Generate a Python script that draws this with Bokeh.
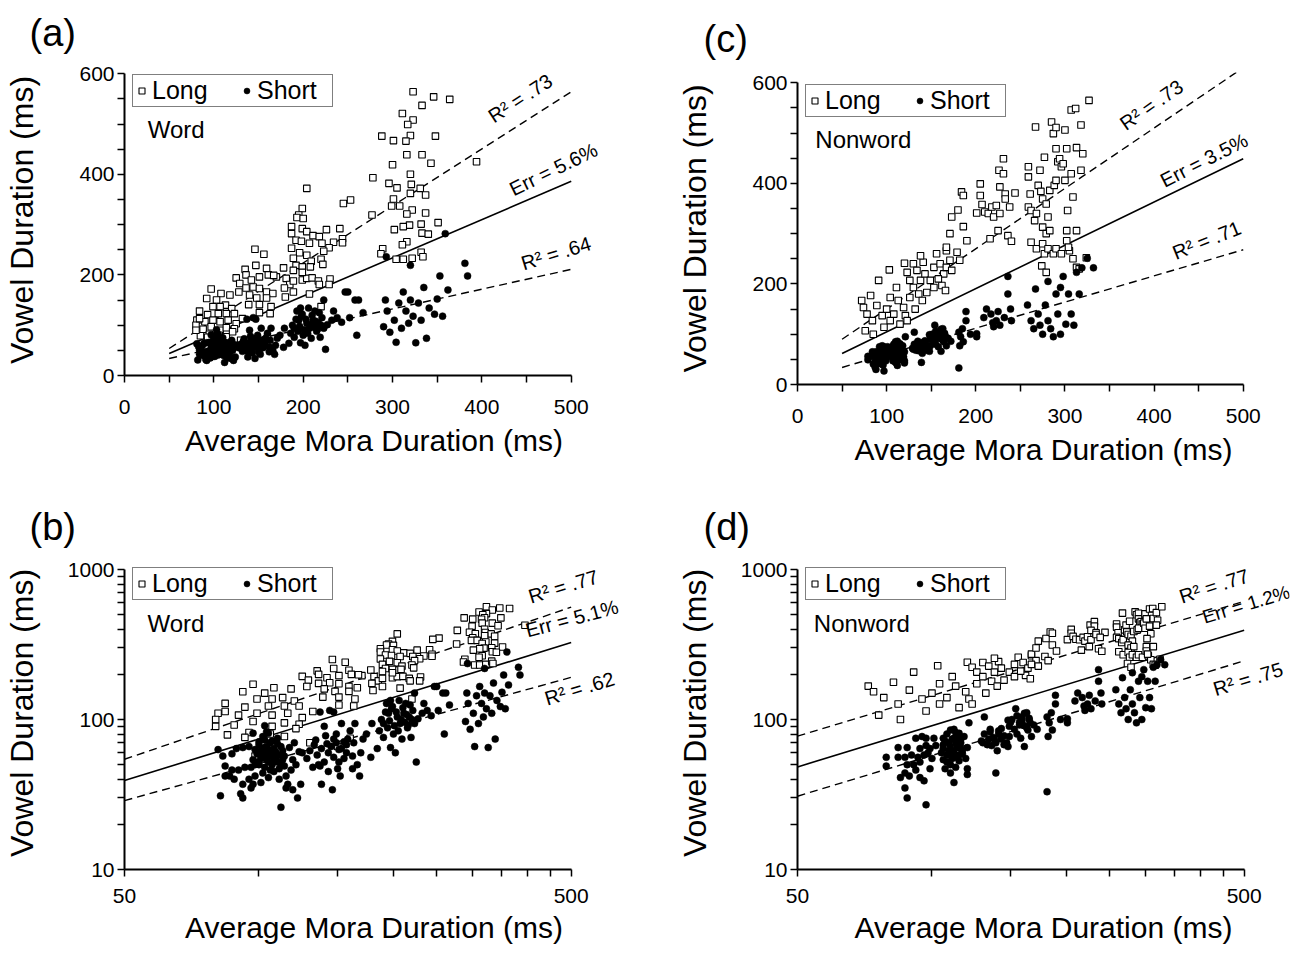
import math
from bokeh.plotting import figure
from bokeh.models import Range1d, FixedTicker, Label, Legend, LegendItem, BasicTickFormatter
from bokeh.layouts import row, column
from bokeh.embed import file_html
from bokeh.resources import INLINE

# ---------------- data (ms) ----------------
word_long = [
    (323,564),(346,554),(364,549),(333,537),(311,521),(323,508),(317,499),(288,476),(301,467),(320,477),
    (315,466),(348,476),(316,439),(333,439),(300,419),(343,422),(394,425),(278,393),(320,400),(296,382),
    (305,373),(321,380),(331,372),(337,359),(320,362),(301,351),(299,337),(308,337),(322,329),(316,321),
    (337,323),(277,319),(351,304),(332,301),(319,299),(312,296),(302,290),(333,283),(340,281),(316,266),
    (311,260),(289,252),(287,242),(304,231),(312,231),(322,233),(332,245),(334,236),(253,349),(245,342),
    (204,372),
    (199,332),(195,319),(193,314),(200,312),(187,296),(199,292),(204,286),(211,278),(218,276),(226,290),
    (241,292),(244,272),(244,264),(234,265),(187,282),(192,269),(198,267),(207,263),(221,263),(229,254),
    (223,247),(187,253),(196,244),(204,239),(209,227),(220,231),(189,233),(192,219),(199,216),(208,216),
    (222,221),(178,214),(189,209),(181,193),(185,181),(189,188),(199,190),(204,193),(210,194),(217,188),
    (230,192),(199,205),(179,174),(189,166),(207,162),(218,181),(229,181),(220,137),(170,196),(180,156),
    (146,251),(156,241),(135,211),(147,219),(159,213),(125,194),(136,200),(142,190),(151,196),(161,200),
    (167,199),(129,183),(136,174),(144,176),(151,173),(159,166),(166,163),(128,166),(140,160),(148,154),
    (159,154),(139,141),(151,141),(164,137),(163,123),(97,172),(92,153),(108,163),(118,160),(103,150),
    (113,140),(120,133),(107,137),(99,137),(84,128),(93,121),(105,123),(114,123),(123,123),(132,113),
    (81,110),(90,107),(99,110),(107,107),(116,110),(125,103),(80,100),(88,92),(97,97),(107,90),
    (114,95),(123,93),(85,79),(95,82),(106,80),(114,77),(84,113),(121,87),(80,90),(151,125),
    (98,57),(93,76),(130,70),(150,66),(160,75),
]
word_short = [
    (81,63),(82,31),(83,57),(84,49),(84,42),(86,42),(87,59),(87,46),(88,40),(89,64),(90,46),(91,32),
    (93,48),(92,37),(92,30),(95,66),(95,40),(96,35),(97,81),(97,54),(98,42),(99,59),(100,71),(101,62),
    (101,38),(102,77),(103,56),(104,83),(104,54),(105,63),(105,41),(106,46),(107,58),(107,72),(109,56),
    (110,69),(111,40),(112,26),(112,58),(113,54),(115,42),(115,35),(116,37),(119,54),(119,34),(122,30),
    (123,61),(124,37),(125,60),(103,73),(103,65),(106,62),(100,52),(98,63),(103,91),(105,81),(92,65),(97,37),
    (100,50),(101,55),(102,60),(103,48),(104,66),(105,52),(106,57),(107,50),(108,64),(108,45),(109,61),
    (110,52),(111,47),(112,66),(113,62),(114,49),(100,68),(102,44),(104,58),(106,70),(108,53),(110,75),
    (112,50),(114,57),(96,48),(98,50),(118,46),(121,50),(117,65),(120,70),
    (134,73),(136,50),(137,49),(138,37),(137,112),(140,90),(142,69),(143,60),(144,115),(146,34),(147,74),
    (149,80),(151,63),(151,52),(152,42),(153,94),(155,71),(157,60),(158,74),(160,84),(162,57),(163,70),
    (164,94),(166,50),(168,42),(169,60),(171,74),(174,80),(178,56),(179,94),(184,64),(162,47),(147,112),
    (128,55),(130,62),(132,48),(133,68),(135,58),(138,64),(140,52),(141,78),(143,45),(145,66),(147,56),
    (149,70),(150,47),(153,64),(155,55),(157,68),
    (186,84),(190,94),(193,128),(195,110),(197,65),(198,118),(200,80),(202,60),(204,104),(206,134),(207,94),
    (209,74),(211,110),(213,128),(215,88),(217,104),(219,76),(221,115),(223,150),(223,94),(225,52),(227,101),
    (232,110),(234,128),(238,115),(243,106),(250,166),(260,80),(262,150),(267,125),(252,115),(197,134),
    (247,166),(258,150),
    (188,100),(190,76),(192,112),(194,88),(196,98),(199,122),(201,91),(203,112),(205,84),(208,100),
    (210,120),(212,96),(214,108),(216,92),(218,125),(220,100),
    (290,97),(292,150),(294,128),(297,86),(302,110),(304,66),(307,144),(310,94),(312,166),(315,128),(318,104),
    (320,150),(323,118),(326,65),(329,144),(332,110),(335,175),(338,74),(341,134),(347,122),(353,198),(356,118),
    (362,170),(381,223),(384,198),(359,282),(350,152),(293,236),(320,219),
]
nonword_long = [
    (72,167),(82,177),(74,153),(78,140),(84,127),(76,107),(85,100),(89,157),(91,207),(95,137),(97,114),
    (100,150),(104,173),(104,127),(103,228),(108,140),(111,193),(113,167),(115,120),(119,153),(121,137),
    (123,127),(120,241),(123,223),(126,207),(130,240),(134,227),(138,207),(141,243),(143,220),(130,193),
    (136,180),(140,167),(145,183),(149,207),(153,233),(156,260),(160,240),(164,220),(167,266),(171,247),
    (167,233),(173,227),(162,197),(167,273),(171,300),(179,263),(182,247),(153,193),(132,150),(158,210),
    (126,173),(138,256),(166,187),
    (173,333),(180,347),(184,383),(186,376),(186,314),(190,286),(201,341),(205,399),(205,376),(207,358),
    (210,343),(214,340),(218,353),(220,333),(223,356),(227,340),(225,306),(216,290),(226,426),(231,449),
    (231,419),(227,393),(233,379),(233,369),(244,381),(236,296),(240,285),(238,353),
    (259,433),(259,413),(261,379),(259,353),(262,346),(266,326),(268,340),(267,512),(270,396),(272,426),
    (273,384),(275,369),(277,452),(279,359),(281,333),(283,386),(285,522),(287,499),(290,511),(288,396),
    (290,469),(292,443),(294,449),(296,433),(290,406),(298,439),(300,506),(302,469),(300,406),(307,419),
    (309,373),(303,346),(307,546),(312,549),(313,471),(318,516),(320,459),(318,426),(327,565),(275,313),
    (279,300),(283,306),(302,306),(313,306),(262,283),(268,270),(275,280),(277,260),(281,270),(287,260),
    (290,270),(296,260),(302,286),(305,266),(309,250),(313,233),(316,230),(274,236),(279,223),(324,252),
    (304,273),
]
nonword_short = [
    (79,56),(79,49),(84,65),(84,56),(85,41),(87,56),(87,44),(88,65),(87,35),(88,30),(89,42),(91,50),
    (92,75),(93,56),(94,64),(94,41),(95,77),(96,58),(96,39),(97,75),(97,27),(97,67),(98,60),(99,47),
    (101,75),(100,55),(102,67),(88,50),(90,58),(92,46),(94,52),(99,64),
    (106,75),(106,64),(107,47),(108,58),(109,70),(110,85),(110,44),(111,62),(112,38),(112,75),(113,56),
    (114,65),(115,81),(115,53),(116,70),(117,59),(118,77),(119,55),(120,65),(120,47),(121,95),(120,43),
    (116,64),(113,70),(109,58),
    (105,60),(106,68),(107,72),(108,52),(108,80),(109,62),(110,66),(111,74),(111,55),(112,60),(113,82),
    (113,48),(114,68),(115,58),(116,74),(117,62),(106,54),(110,50),(112,86),(114,77),
    (131,104),(130,70),(134,74),(135,83),(136,67),(138,74),(139,44),(140,62),(141,80),(143,87),(145,68),
    (148,99),(149,77),(150,96),(154,118),(155,80),(157,96),(158,75),(159,104),(161,91),(163,111),(164,85),
    (165,100),(167,77),(169,92),(172,86),(161,66),(148,66),
    (129,72),(131,80),(133,68),(135,86),(137,76),(139,70),(141,84),(143,74),(145,78),(147,70),
    (149,90),(151,100),(153,86),(155,106),(157,92),(159,98),(161,110),(163,88),(165,102),(166,95),
    (181,104),(182,77),(183,95),(185,111),(186,85),(189,127),(189,145),(194,100),(201,101),(201,95),(181,33),
    (209,133),(212,150),(217,140),(219,123),(223,127),(225,145),(227,118),(232,133),(220,115),
    (236,215),(236,180),(239,150),(240,127),
    (258,158),(262,127),(265,111),(267,190),(270,140),(272,118),(275,100),(278,158),(281,205),(281,127),
    (284,111),(287,95),(290,180),(292,140),(295,100),(298,215),(301,120),(304,180),(307,140),(310,118),
    (313,223),(316,180),(319,232),(325,251),(332,232),(295,193),
]

# fitted lines: values at x = 50 and x = 500 ms
fit_x = [50, 500]
fits_a = {"long": [53.7, 564], "err": [43.7, 386], "short": [33.8, 211]}
fits_b = {"long": [54.3, 561], "err": [39.2, 326], "short": [28.8, 191]}
fits_c = {"long": [90, 630], "err": [61.8, 449], "short": [33.9, 268]}
fits_d = {"long": [77.4, 614], "err": [48.3, 394], "short": [30.8, 246]}

labels_a = ["R\u00b2 = .73", "Err = 5.6%", "R\u00b2 = .64"]
labels_b = ["R\u00b2 = .77", "Err = 5.1%", "R\u00b2 = .62"]
labels_c = ["R\u00b2 = .73", "Err = 3.5%", "R\u00b2 = .71"]
labels_d = ["R\u00b2 = .77", "Err = 1.2%", "R\u00b2 = .75"]

lin_x_ticks = [0, 100, 200, 300, 400, 500]
lin_x_minor = [50, 150, 250, 350, 450]
lin_y_ticks = [0, 200, 400, 600]
lin_y_minor = [50, 100, 150, 250, 300, 350, 450, 500, 550]
log_x_ticks = [50, 500]
log_x_minor = [100, 150, 200, 250, 300, 350, 400, 450]
log_y_ticks = [10, 100, 1000]
log_y_minor = [20, 30, 40, 50, 60, 70, 80, 90, 200, 300, 400, 500, 600, 700, 800, 900]

XLAB = "Average Mora Duration (ms)"
YLAB = "Vowel Duration (ms)"

FONT = "Liberation Sans"


def style_axis(ax, ticks, minor, bounds, label, y_axis, standoffs):
    ax.ticker = FixedTicker(ticks=ticks, minor_ticks=minor)
    ax.formatter = BasicTickFormatter()
    ax.major_label_overrides = {t: str(t) for t in ticks}
    ax.bounds = bounds
    ax.axis_label = label
    ax.axis_label_text_font = FONT
    ax.axis_label_text_font_size = "32px" if y_axis else "30px"
    ax.axis_label_text_font_style = "normal"
    ax.axis_label_text_color = "black"
    ax.major_label_text_font = FONT
    ax.major_label_text_font_size = "21px"
    ax.major_label_text_color = "black"
    ax.axis_line_width = 2
    ax.axis_line_color = "black"
    ax.major_tick_line_width = 1.5
    ax.minor_tick_line_width = 1.5
    ax.major_tick_line_color = "black"
    ax.minor_tick_line_color = "black"
    ax.major_tick_out = 7
    ax.major_tick_in = 0
    ax.minor_tick_out = 7
    ax.minor_tick_in = 0
    ax.major_label_standoff, ax.axis_label_standoff = standoffs


def make_panel(frame_w, frame_h, borders, log, xr, yr, long_pts, short_pts, fits, labels,
               label_pos, label_ang, label_sizes, tag, tag_offset, tag_standoff, tag_valign,
               cond, cond_pos, legend_loc, x_standoffs):
    p = figure(frame_width=frame_w, frame_height=frame_h, output_backend="svg",
               toolbar_location=None, x_range=Range1d(*xr), y_range=Range1d(*yr),
               x_axis_type="log" if log else "linear",
               y_axis_type="log" if log else "linear")
    p.min_border_left, p.min_border_right, p.min_border_top, p.min_border_bottom = borders
    p.outline_line_color = None
    p.grid.visible = False
    p.background_fill_color = "white"
    p.border_fill_color = "white"

    p.title.text = tag
    p.title.align = "left"
    p.title.offset = tag_offset
    p.title.standoff = tag_standoff
    p.title.vertical_align = tag_valign
    p.title.text_font = FONT
    p.title.text_font_size = "38px"
    p.title.text_font_style = "normal"
    p.title.text_color = "black"

    style_axis(p.xaxis[0], log_x_ticks if log else lin_x_ticks,
               log_x_minor if log else lin_x_minor,
               (50, 500) if log else (0, 500), XLAB, False, x_standoffs)
    style_axis(p.yaxis[0], log_y_ticks if log else lin_y_ticks,
               log_y_minor if log else lin_y_minor,
               (10, 1000) if log else (0, 600), YLAB, True, (3, 25 if log else 36))

    # fitted lines
    p.line(fit_x, fits["long"], line_color="black", line_width=1.4, line_dash="8 5")
    p.line(fit_x, fits["err"], line_color="black", line_width=1.6)
    p.line(fit_x, fits["short"], line_color="black", line_width=1.4, line_dash="8 5")

    r_long = p.scatter([q[0] for q in long_pts], [q[1] for q in long_pts], marker="square",
                       size=6.5, fill_color="white", line_color="black", line_width=1.1)
    r_short = p.scatter([q[0] for q in short_pts], [q[1] for q in short_pts], marker="circle",
                        size=7, fill_color="black", line_color="black", line_width=0.5)

    legend = Legend(items=[LegendItem(label="Long", renderers=[r_long]),
                           LegendItem(label="Short", renderers=[r_short])],
                    orientation="horizontal", location=legend_loc, margin=0, padding=1,
                    spacing=13, glyph_width=15, glyph_height=15, label_standoff=3,
                    label_width=74, label_height=29,
                    label_text_font=FONT, label_text_font_size="25px",
                    label_text_color="black",
                    border_line_color="black", border_line_width=1.2,
                    background_fill_color="white", background_fill_alpha=1.0)
    p.add_layout(legend, "center")

    for txt, (lx, ly), ang, fs in zip(labels, label_pos, label_ang, label_sizes):
        p.add_layout(Label(x=lx, y=ly, text=txt, angle=math.radians(ang),
                           text_align="center", text_baseline="middle",
                           text_font=FONT, text_font_size=fs, text_color="black"))

    p.add_layout(Label(x=cond_pos[0], y=cond_pos[1], text=cond, text_align="left",
                       text_baseline="middle", text_font=FONT, text_font_size="24px",
                       text_color="black"))
    return p


S3 = ["20px", "20px", "20px"]

# left column: (a) above (b)
pa = make_panel(499, 311, (117, 30, 64, 86), False, (0, 558.5), (0, 618.3),
                word_long, word_short, fits_a, labels_a,
                [(443, 551), (480, 410), (483, 243)], [33, 26, 17], S3,
                "(a)", -95, 17, "top", "Word", (26, 489), (8, 268), (17, 7))
pb = make_panel(499, 313, (117, 30, 95, 79), True, (50, 654.8), (10, 1221),
                word_long, word_short, fits_b, labels_b,
                [(480, 770), (502, 471), (522, 161)], [17, 15, 17], S3,
                "(b)", -95, 18, "bottom", "Word", (56.3, 437), (8, 269), (12, 5))

# right column: (c) above (d)
pc = make_panel(492, 312, (144, 2, 72, 86), False, (0, 551.9), (0, 620.5),
                nonword_long, nonword_short, fits_c, labels_c,
                [(397, 556), (456, 446), (459, 287)], [35, 27, 22], S3,
                "(c)", -94, 22, "top", "Nonword", (20, 488), (8, 267), (17, 7))
pd = make_panel(492, 313, (144, 2, 86, 79), True, (50, 631.6), (10, 1221),
                nonword_long, nonword_short, fits_d, labels_d,
                [(428, 775), (505, 585), (510, 186)], [18, 17, 17], ["20px", "19px", "20px"],
                "(d)", -94, 18, "bottom", "Nonword", (54.4, 438), (8, 269), (12, 5))

layout = row(column(pa, pb), column(pc, pd))
open("out.html", "w").write(file_html(layout, INLINE))
